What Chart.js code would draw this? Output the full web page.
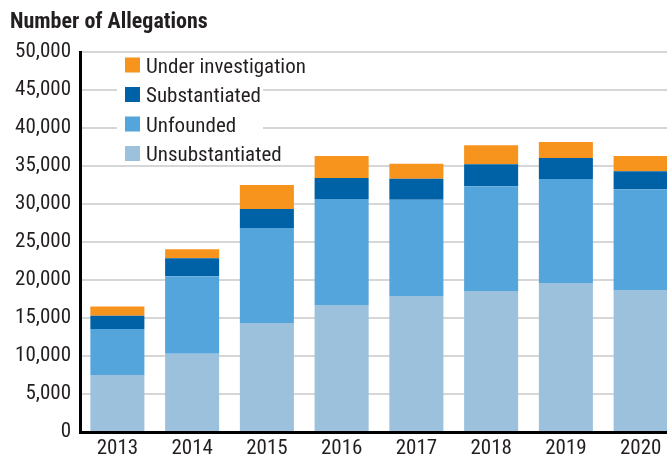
<!DOCTYPE html>
<html>
<head>
<meta charset="utf-8">
<script src="https://cdn.jsdelivr.net/npm/chart.js@4/dist/chart.umd.min.js"></script>
<style>
  html, body { margin: 0; padding: 0; background: #fff; overflow: hidden; }
  #wrap { width: 678px; height: 458px; }
</style>
</head>
<body>
<div id="wrap"><canvas id="chart" width="678" height="458"></canvas></div>
<script>
// Allegations by outcome, per year
const years = ["2013", "2014", "2015", "2016", "2017", "2018", "2019", "2020"];
const unsubstantiated = [7500, 10300, 14350, 16700, 17900, 18550, 19600, 18700];
const unfounded = [6050, 10200, 12500, 13950, 12650, 13800, 13700, 13250];
const substantiated = [1750, 2370, 2500, 2760, 2760, 2890, 2760, 2370];
const underInvestigation = [1200, 1180, 3150, 2900, 1970, 2500, 2110, 1980];

const FONT = "'Roboto Condensed', Roboto, sans-serif";
const TEXT = "#231f20";

// Legend drawn inside the plot on a white patch (covers gridlines like the original)
const boxLegend = {
  id: "boxLegend",
  beforeDatasetsDraw(chart) {
    const ctx = chart.ctx;
    ctx.save();
    ctx.fillStyle = "#fff";
    ctx.fillRect(117, 56, 146, 107);
    const items = chart.data.datasets.slice().reverse();
    ctx.font = `condensed 21px ${FONT}`;
    ctx.textBaseline = "alphabetic";
    ctx.textAlign = "left";
    items.forEach((ds, i) => {
      const y = 57.5 + i * 29.5;
      ctx.fillStyle = ds.backgroundColor;
      ctx.fillRect(125, y, 15, 15);
      ctx.fillStyle = TEXT;
      ctx.fillText(ds.label, 146, y + 15);
    });
    ctx.restore();
  },
};

new Chart(document.getElementById("chart"), {
  type: "bar",
  data: {
    labels: years,
    datasets: [
      { label: "Unsubstantiated", data: unsubstantiated, backgroundColor: "#9bc1dc" },
      { label: "Unfounded", data: unfounded, backgroundColor: "#54a5db" },
      { label: "Substantiated", data: substantiated, backgroundColor: "#0062a6" },
      { label: "Under investigation", data: underInvestigation, backgroundColor: "#f6941e" },
    ],
  },
  options: {
    responsive: false,
    animation: false,
    layout: { padding: { left: 10, top: 0, right: 0, bottom: 0 } },
    datasets: { bar: { categoryPercentage: 1, barPercentage: 0.723, borderWidth: 0 } },
    plugins: {
      legend: { display: false },
      tooltip: { enabled: false },
      title: {
        display: true,
        text: "Number of Allegations",
        align: "start",
        color: TEXT,
        font: { family: FONT, size: 22, style: "condensed", weight: "bold", lineHeight: 1.2 },
        padding: { top: 8.8, bottom: 16.8 },
      },
    },
    scales: {
      x: {
        stacked: true,
        grid: { display: false, drawTicks: false },
        border: { display: true, color: "#000", width: 3, z: 1 },
        ticks: { color: TEXT, font: { family: FONT, size: 21, style: "condensed" }, padding: 4, maxRotation: 0 },
        afterFit: (s) => { s.height = 26; },
      },
      y: {
        stacked: true,
        min: 0,
        max: 50000,
        grid: { color: "#d6d6d6", lineWidth: 2, drawTicks: false },
        border: { display: true, color: "#000", width: 3, z: 1 },
        ticks: {
          stepSize: 5000,
          color: TEXT,
          padding: 9,
          font: { family: FONT, size: 21, style: "condensed" },
          callback: (v) => v.toLocaleString("en-US"),
        },
        afterFit: (s) => { s.width = 70; },
      },
    },
  },
  plugins: [boxLegend],
});
</script>
</body>
</html>
